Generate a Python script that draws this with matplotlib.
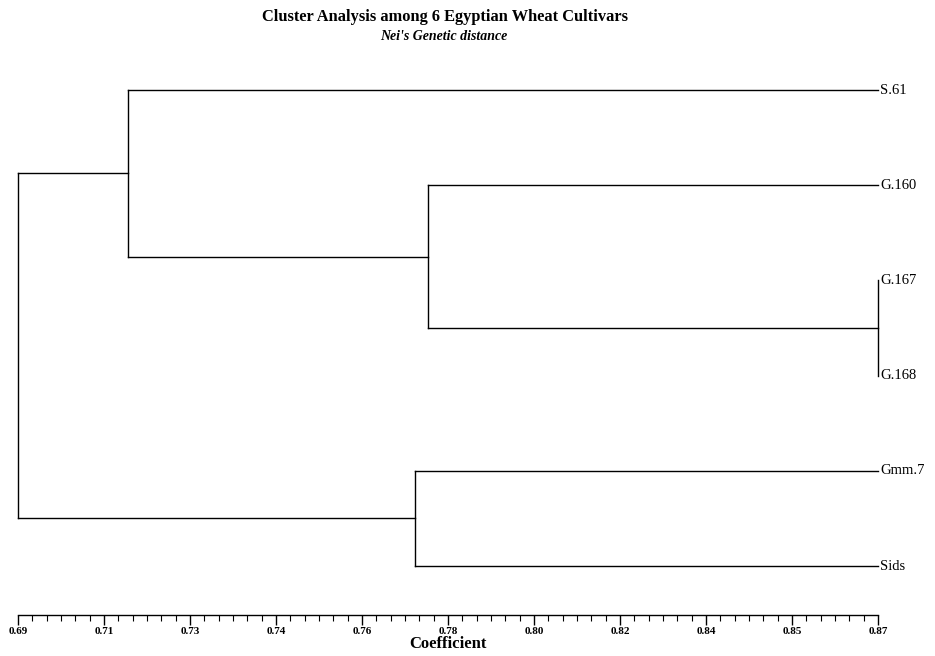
import numpy as np
import matplotlib.pyplot as plt
from matplotlib.ticker import MultipleLocator

# leaves, top to bottom
leaves = ['S.61', 'G.160', 'G.167', 'G.168', 'Gmm.7', 'Sids']

# merges (scipy style: new clusters get ids 6, 7, ...)
merge_a = [2, 1, 4, 0, 9]
merge_b = [3, 6, 5, 7, 8]
merge_coef = [0.870, 0.7758, 0.7731, 0.7130, 0.690]

tick_values = np.linspace(0.69, 0.87, 11)
tick_labels = ['0.69', '0.71', '0.73', '0.74', '0.76', '0.78',
               '0.80', '0.82', '0.84', '0.85', '0.87']

SERIF = ['Liberation Serif', 'DejaVu Serif']

fig = plt.figure(figsize=(9.35, 6.56), dpi=100)
W, H = 935, 656
x0, x1 = 18, 878
ytop, ybot = 60, 615
ax = fig.add_axes([x0 / W, (H - ybot) / H, (x1 - x0) / W, (ybot - ytop) / H])

step = (566 - 90) / 5.0
ax.set_xlim(0.69, 0.87)
ax.set_ylim(5 + (ybot - 566) / step, -(90 - ytop) / step)

# node positions
xs = [0.87] * len(leaves)
ys = list(range(len(leaves)))
for a, b, c in zip(merge_a, merge_b, merge_coef):
    ax.plot([xs[a], c], [ys[a], ys[a]], color='black', lw=1.0, clip_on=False)
    ax.plot([xs[b], c], [ys[b], ys[b]], color='black', lw=1.0, clip_on=False)
    ax.plot([c, c], [ys[a], ys[b]], color='black', lw=1.0, clip_on=False)
    xs.append(c)
    ys.append((ys[a] + ys[b]) / 2.0)

for i, name in enumerate(leaves):
    ax.text(0.8705, ys[i], name, ha='left', va='center', fontsize=10.5,
            family=SERIF, clip_on=False)

for s in ['left', 'top', 'right']:
    ax.spines[s].set_visible(False)
ax.spines['bottom'].set_linewidth(1.0)
ax.set_yticks([])
ax.set_xticks(tick_values)
ax.set_xticklabels(tick_labels, family=SERIF, fontsize=8, fontweight='bold')
ax.xaxis.set_minor_locator(MultipleLocator(0.003))
ax.tick_params(axis='x', which='major', direction='out', length=7, width=1.0, pad=2)
ax.tick_params(axis='x', which='minor', direction='out', length=4, width=0.8)
ax.set_xlabel('Coefficient', family=SERIF, fontsize=12, fontweight='bold', labelpad=0)

fig.text(445 / W, 1 - 17 / H, 'Cluster Analysis among 6 Egyptian Wheat Cultivars',
         ha='center', va='center', family=SERIF, fontsize=11.8, fontweight='bold')
fig.text(444 / W, 1 - 36 / H, "Nei's Genetic distance", ha='center', va='center',
         family=SERIF, fontsize=10, fontweight='bold', style='italic')

fig.savefig('out.png', dpi=100)
